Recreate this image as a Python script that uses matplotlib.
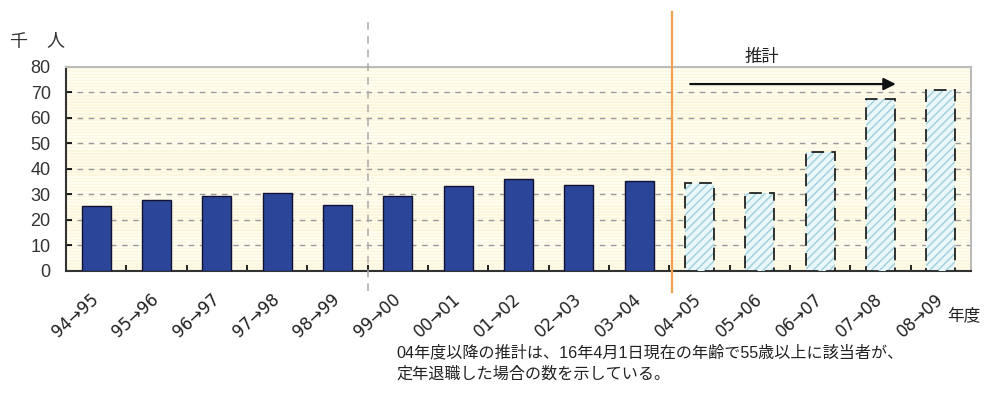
import numpy as np
import matplotlib.pyplot as plt
import matplotlib as mpl
from matplotlib.transforms import ScaledTranslation

plt.rcParams['font.family'] = ['Liberation Sans', 'Noto Sans CJK JP']
mpl.rcParams['hatch.linewidth'] = 1.0

periods = ['94→95', '95→96', '96→97', '97→98', '98→99', '99→00', '00→01',
           '01→02', '02→03', '03→04', '04→05', '05→06', '06→07', '07→08', '08→09']
actual = [25.5, 27.6, 29.3, 30.6, 25.9, 29.3, 33.1, 36.0, 33.7, 35.3]
projected = [34.4, 30.5, 46.5, 67.6, 71.1]

fig = plt.figure(figsize=(9.86, 3.96), dpi=100)
ax = fig.add_axes([66/986, 1-270.7/396, 905/986, 203.7/396])

ax.set_facecolor('#fffdf0')
# faint stripes in the plot area
for y in np.arange(0, 80, 1.2):
    ax.axhspan(y, y+0.6, color='#fbf6dc', lw=0, zorder=0)

x = np.arange(len(periods))
n = len(actual)
ax.bar(x[:n], actual, width=0.48, color='#2b4699', edgecolor='#111133',
       linewidth=1.0, zorder=3)
ax.bar(x[n:], projected, width=0.48, color='#eaf7f9', edgecolor='#9dcfdc',
       hatch='////', linewidth=0, zorder=3)
ax.bar(x[n:], projected, width=0.48, fill=False, edgecolor='#222222',
       linewidth=1.3, linestyle=(0, (7, 4)), zorder=4)

ax.set_xlim(-0.5, len(periods)-0.5)
ax.set_ylim(0, 80)
ax.set_yticks(range(0, 81, 10))
for yv in range(10, 80, 10):
    ax.axhline(yv, color='#999999', lw=1.0, ls=(0, (4, 4)), zorder=1)

ax.set_xticks(x)
ax.set_xticklabels(periods, rotation=42, ha='right', va='center',
                   rotation_mode='anchor', fontsize=12, family='DejaVu Sans',
                   color='#222222')
shift = ScaledTranslation(-22/100, 0, fig.dpi_scale_trans)
for lab in ax.get_xticklabels():
    lab.set_transform(lab.get_transform() + shift)
ax.set_xticks(np.arange(0.5, len(periods)-0.5, 1), minor=True)
ax.tick_params(axis='x', which='major', length=0, pad=19)
ax.tick_params(axis='x', which='minor', length=4, direction='in', width=1.2)
ax.tick_params(axis='y', length=4, direction='in', width=1.2, labelsize=13,
               pad=11, labelcolor='#333333')

for s in ['top', 'right']:
    ax.spines[s].set_color('#bbbbbb')
    ax.spines[s].set_linewidth(1.5)
ax.spines['left'].set_color('#333333')
ax.spines['left'].set_linewidth(1.5)
ax.spines['bottom'].set_color('#333333')
ax.spines['bottom'].set_linewidth(1.5)

# divider lines
ax.plot([4.5, 4.5], [-8, 98], color='#aaaaaa', lw=1.1, ls=(0, (5, 4)),
        clip_on=False, zorder=5)
ax.plot([9.55, 9.55], [-8.5, 101.5], color='#f0a050', lw=1.6,
        clip_on=False, zorder=5)

ax.annotate('', xy=(13.3, 73.3), xytext=(9.8, 73.3),
            arrowprops=dict(arrowstyle='-|>', color='#111111', lw=1.6,
                            mutation_scale=18), zorder=6)
ax.text(11.04, 80.6, '推計', fontsize=12.5, ha='center', va='bottom',
        color='#222222')

fig.text(18/986, 1-43/396, '千', fontsize=13, ha='center', va='center',
         color='#333333')
fig.text(55/986, 1-41/396, '人', fontsize=13, ha='center', va='center',
         color='#333333')
fig.text(964/986, 1-315/396, '年度', fontsize=12, ha='center', va='center',
         color='#222222')
fig.text(396/986, 1-353/396,
         '04年度以降の推計は、16年4月1日現在の年齢で55歳以上に該当者が、',
         fontsize=11.6, va='center', color='#222222')
fig.text(396/986, 1-374/396, '定年退職した場合の数を示している。',
         fontsize=11.6, va='center', color='#222222')

fig.savefig('out.png', dpi=100, facecolor='white')
